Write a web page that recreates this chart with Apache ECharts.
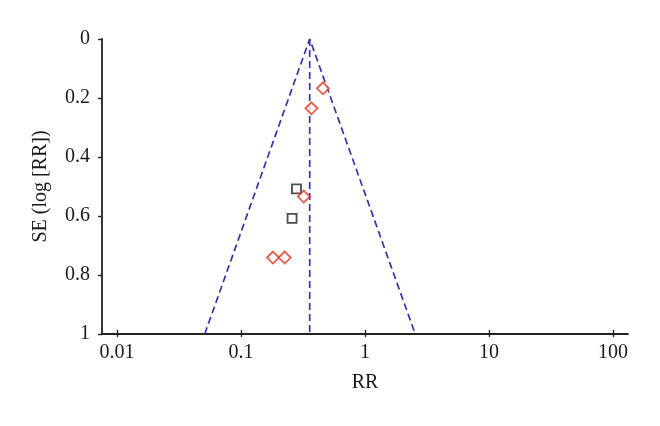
<!DOCTYPE html>
<html>
<head>
<meta charset="utf-8">
<script src="https://cdn.jsdelivr.net/npm/echarts@6/dist/echarts.min.js"></script>
<style>html,body{margin:0;padding:0;background:#fff;}#c{width:660px;height:426px;}</style>
</head>
<body>
<div id="c"></div>
<script>
// Study points: [RR, SE(log RR)]
const diamondPoints = [[0.458, 0.167], [0.370, 0.235], [0.321, 0.534], [0.181, 0.741], [0.225, 0.741]];
const squarePoints = [[0.280, 0.508], [0.258, 0.608]];
// Funnel (pooled RR and 95% limits at SE = 1)
const funnelEdges = [[0.051, 1], [0.358, 0], [2.54, 1]];
const pooledLine = [[0.358, 0], [0.358, 1]];
const xTicks = [0.01, 0.1, 1, 10, 100];
const xTickLabels = ['0.01', '0.1', '1', '10', '100'];

const FONT = '"Liberation Serif", "DejaVu Serif", serif';
const axisColor = '#222';
const textColor = '#1a1a1a';
const lineColor = '#3a32a6';

const chart = echarts.init(document.getElementById('c'), null, {renderer: 'canvas'});
const xBase = {
  type: 'log', logBase: 10, min: 0.00757, max: 132, gridIndex: 0, position: 'bottom'
};
chart.setOption({
  animation: false,
  backgroundColor: '#fff',
  grid: {left: 102, right: 32, top: 39, bottom: 92, containLabel: false},
  xAxis: [
    Object.assign({}, xBase, {
      name: 'RR', nameLocation: 'middle', nameGap: 39,
      nameTextStyle: {fontFamily: FONT, fontSize: 20, color: textColor},
      axisLine: {show: true, onZero: false, lineStyle: {color: axisColor, width: 1.8}},
      axisTick: {show: true, inside: false, length: 3, lineStyle: {color: axisColor, width: 1.4}, customValues: xTicks},
      axisLabel: {show: true, margin: 9, fontFamily: FONT, fontSize: 20, color: textColor, customValues: xTicks,
        formatter: function (v) { const i = xTicks.findIndex(t => Math.abs(Math.log10(t) - Math.log10(v)) < 1e-6); return i >= 0 ? xTickLabels[i] : ''; }},
      splitLine: {show: false}, minorTick: {show: false}
    }),
    Object.assign({}, xBase, {
      axisLine: {show: false, onZero: false},
      axisTick: {show: true, inside: true, length: 4, lineStyle: {color: axisColor, width: 1.4}, customValues: xTicks},
      axisLabel: {show: false},
      splitLine: {show: false}
    })
  ],
  yAxis: {
    type: 'value', inverse: true, min: 0, max: 1, interval: 0.2,
    name: 'SE (log [RR])', nameLocation: 'middle', nameGap: 51, nameRotate: 90,
    nameTextStyle: {fontFamily: FONT, fontSize: 20, color: textColor},
    axisLine: {show: true, onZero: false, lineStyle: {color: axisColor, width: 1.8}},
    axisTick: {show: true, inside: false, length: 4, lineStyle: {color: axisColor, width: 1.4}},
    axisLabel: {margin: 12, fontFamily: FONT, fontSize: 20, color: textColor},
    splitLine: {show: false}
  },
  series: [
    {type: 'line', data: funnelEdges, symbol: 'none', silent: true, z: 2,
      lineStyle: {color: lineColor, width: 1.7, type: [7, 4]}},
    {type: 'line', data: pooledLine, symbol: 'none', silent: true, z: 2,
      lineStyle: {color: lineColor, width: 1.7, type: [7, 4]}},
    {type: 'scatter', data: squarePoints, symbol: 'rect', symbolSize: 9, z: 5,
      itemStyle: {color: '#fff', borderColor: '#1e1e1e', borderWidth: 1.8}},
    {type: 'scatter', data: diamondPoints, symbol: 'diamond', symbolSize: 12, z: 6,
      itemStyle: {color: '#fff', borderColor: '#e0321c', borderWidth: 1.8}}
  ]
});
</script>
</body>
</html>
